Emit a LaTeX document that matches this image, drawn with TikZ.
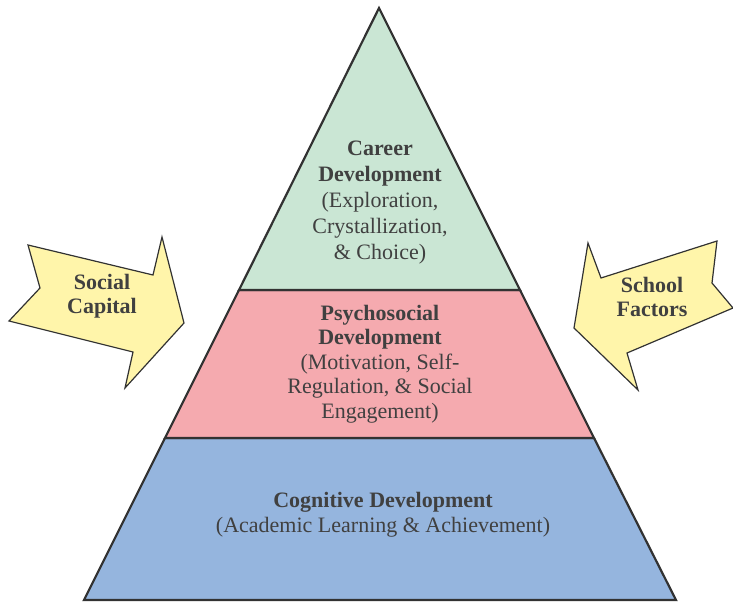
\documentclass[tikz,border=0pt]{standalone}
\usepackage{fontspec}
\setmainfont{Liberation Serif}
\usepackage{tikz}
\usetikzlibrary{positioning}
\definecolor{career}{RGB}{202,230,212}
\definecolor{psycho}{RGB}{245,170,175}
\definecolor{cognit}{RGB}{149,181,222}
\definecolor{arrowfill}{RGB}{255,245,170}
\definecolor{edge}{RGB}{50,50,50}
\definecolor{ink}{RGB}{64,64,64}

\begin{document}
\begin{tikzpicture}[
    x=1pt, y=-1pt,
    layer/.style={draw=edge, line width=2.2pt, line join=miter},
    bigarrow/.style={draw=edge, fill=arrowfill, line width=1.2pt, line join=miter},
    label/.style={text=ink, align=center, font=\fontsize{22}{25}\selectfont}
]
    \useasboundingbox (0,0) rectangle (733,602);

    % pyramid corners
    \coordinate (apex) at (379,8);
    \coordinate (bl) at (84,600);
    \coordinate (br) at (676,600);
    \coordinate (ml) at (165,438);
    \coordinate (mr) at (594,438);
    \coordinate (tl) at (239,290);
    \coordinate (tr) at (520,290);

    \filldraw[layer, fill=cognit] (ml) -- (mr) -- (br) -- (bl) -- cycle;
    \filldraw[layer, fill=psycho] (tl) -- (tr) -- (mr) -- (ml) -- cycle;
    \filldraw[layer, fill=career] (apex) -- (tr) -- (tl) -- cycle;

    % side arrows
    \filldraw[bigarrow] (28,245) -- (153,275) -- (162,237) -- (184,323)
        -- (125,388) -- (133,352) -- (9,321) -- (40,288) -- cycle;
    \filldraw[bigarrow] (717,241) -- (601,278) -- (588,243) -- (574,328)
        -- (638,390) -- (627,353) -- (733,308) -- (712,283) -- cycle;

    \node[label, font=\fontsize{22}{26}\selectfont] (careerlbl) at (380,203) {\textbf{Career}\\\textbf{Development}\\(Exploration,\\Crystallization,\\\& Choice)};
    \node[label, font=\fontsize{22}{24.5}\selectfont] (psycholbl) at (380,364) {\textbf{Psychosocial}\\\textbf{Development}\\(Motivation, Self-\\Regulation, \& Social\\Engagement)};
    \node[label] (cognitlbl) at (383,515) {\textbf{Cognitive Development}\\(Academic Learning \& Achievement)};
    \node[label, font=\bfseries\fontsize{22}{24}\selectfont] (social) at (102,296) {Social\\Capital};
    \node[label, font=\bfseries\fontsize{22}{24}\selectfont] (school) at (652,297) {School\\Factors};
\end{tikzpicture}
\end{document}
